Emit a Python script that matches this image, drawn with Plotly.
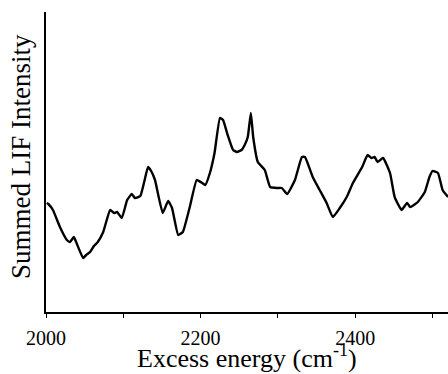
import plotly.graph_objects as go

# LIF spectrum trace: excess energy (cm-1) vs summed intensity (arb. units)
energy = [2001, 2003, 2009, 2018, 2027, 2031, 2036, 2040, 2048, 2052, 2057, 2062, 2067,
          2074, 2083, 2088, 2092, 2098, 2105, 2111, 2115, 2122, 2127, 2132, 2136,
          2141, 2151, 2158, 2163, 2171, 2177, 2186, 2195, 2202, 2206, 2212, 2218,
          2225, 2229, 2235, 2242, 2247, 2253, 2257, 2261, 2265, 2268, 2274, 2283,
          2290, 2299, 2305, 2312, 2322, 2331, 2335, 2345, 2354, 2363, 2371, 2380,
          2389, 2397, 2409, 2416, 2421, 2425, 2429, 2436, 2445, 2451, 2460, 2467,
          2471, 2481, 2490, 2496, 2500, 2507, 2513, 2520]
intensity = [109, 108, 102, 85, 72, 70, 75, 68, 54, 57, 60, 66, 70,
             80, 102, 99, 100, 94, 112, 118, 114, 116, 130, 145, 141,
             132, 99, 111, 104, 77, 80, 105, 132, 129, 127, 139, 159,
             194, 192, 177, 162, 160, 162, 167, 175, 199, 175, 150, 142,
             125, 124, 124, 118, 132, 155, 155, 135, 122, 109, 95, 104,
             115, 129, 145, 157, 154, 155, 150, 154, 139, 115, 102, 109,
             105, 110, 120, 135, 141, 139, 122, 115]

fig = go.Figure()
fig.add_trace(go.Scatter(
    x=energy, y=intensity, mode="lines",
    line=dict(color="black", width=2.4, shape="spline", smoothing=0.4),
    hoverinfo="skip", showlegend=False,
))

serif = "Liberation Serif, Times New Roman, serif"

fig.update_layout(
    width=448, height=374,
    margin=dict(l=46, r=0, t=12, b=62),
    paper_bgcolor="white", plot_bgcolor="white",
    font=dict(family=serif, color="black"),
    xaxis=dict(
        range=[2000, 2520], tickvals=[2000, 2200, 2400],
        ticks="outside", ticklen=4, tickwidth=1.2, tickcolor="black",
        ticklabelstandoff=3,
        minor=dict(tickvals=[2100, 2300, 2500], ticks="outside", ticklen=4,
                   tickwidth=1.2, tickcolor="black"),
        showline=True, linecolor="black", linewidth=1.5,
        showgrid=False, zeroline=False,
        tickfont=dict(family=serif, size=20, color="black"),
    ),
    yaxis=dict(
        range=[0, 300], showticklabels=False, ticks="",
        showline=True, linecolor="black", linewidth=1.5,
        showgrid=False, zeroline=False,
    ),
    annotations=[
        dict(text="Excess energy (cm<sup>-1</sup>)", xref="paper", yref="paper",
             x=0.5, y=-0.148, xanchor="center", yanchor="middle", showarrow=False,
             font=dict(family=serif, size=26, color="black")),
        dict(text="Summed LIF Intensity", xref="paper", yref="paper",
             x=-0.062, y=0.517, xanchor="center", yanchor="middle", textangle=-90,
             showarrow=False, font=dict(family=serif, size=27, color="black")),
    ],
)

fig.write_html("out.html")
